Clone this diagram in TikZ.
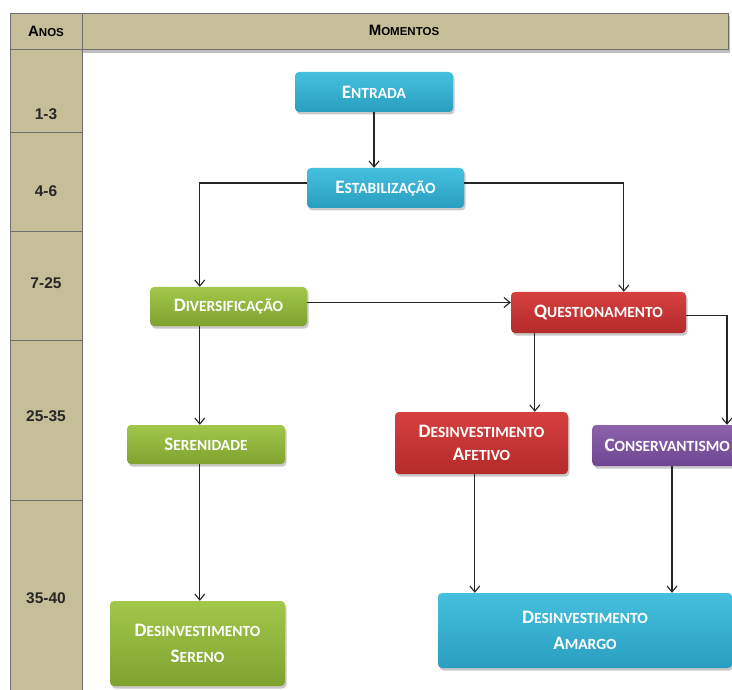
\documentclass[tikz,border=0pt]{standalone}
\usepackage{fontspec}
\setmainfont{Carlito}
\newfontfamily\arialfont{Liberation Sans}
\usetikzlibrary{arrows.meta,shadows,calc}
\definecolor{tan}{HTML}{C6BE99}
\definecolor{gridline}{HTML}{6E6E6E}
\definecolor{cyanT}{HTML}{45C0DE}
\definecolor{cyanB}{HTML}{2A9EC0}
\definecolor{greenT}{HTML}{A2C74A}
\definecolor{greenB}{HTML}{7FA22F}
\definecolor{redT}{HTML}{D6403F}
\definecolor{redB}{HTML}{B42A2A}
\definecolor{purT}{HTML}{8C62AC}
\definecolor{purB}{HTML}{6E4691}
\newcommand\fsc[2]{{\fontsize{19}{22}\selectfont #1}{\fontsize{15.5}{22}\selectfont #2}}
\newcommand\hsc[2]{{\fontsize{15}{16}\selectfont #1}{\fontsize{11.5}{16}\selectfont #2}}
\tikzset{
  box/.style={rounded corners=4pt, draw=none, text=white,
    font=\bfseries\fontsize{15.5}{23}\selectfont,
    align=center, inner sep=0pt,
    drop shadow={shadow xshift=1.5pt, shadow yshift=-2.5pt, opacity=0.35, fill=black!60}},
  cyanbox/.style={box, top color=cyanT, bottom color=cyanB},
  greenbox/.style={box, top color=greenT, bottom color=greenB},
  redbox/.style={box, top color=redT, bottom color=redB},
  purbox/.style={box, top color=purT, bottom color=purB},
  cell/.style={fill=tan, draw=gridline, line width=1pt},
  rowlabel/.style={font=\arialfont\bfseries\fontsize{15.5}{16}\selectfont, text=black!85},
  arr/.style={draw=black!85, line width=1.1pt, -{Straight Barb[length=6pt,width=10pt]}}
}
\begin{document}
\begin{tikzpicture}[x=1pt,y=-1pt]
\useasboundingbox (0,0) rectangle (732,690);
\fill[white] (0,0) rectangle (732,690);
\begin{scope}
\clip (0,0) rectangle (732,690);
% table
\fill[black!25] (12,16) rectangle (730,53);
\draw[cell] (10,14) rectangle (82,50);
\draw[cell] (82,14) rectangle (728,50);
\draw[cell] (10,50) rectangle (82,133);
\draw[cell] (10,133) rectangle (82,232);
\draw[cell] (10,232) rectangle (82,340);
\draw[cell] (10,340) rectangle (82,500);
\draw[cell] (10,500) rectangle (82,695);
\node[text=black] (hanos) at (46,31) {\arialfont\bfseries\hsc{A}{NOS}};
\node[text=black] (hmom) at (404,30) {\arialfont\bfseries\hsc{M}{OMENTOS}};
\node[rowlabel] (r1) at (46,114) {1-3};
\node[rowlabel] (r2) at (46,191) {4-6};
\node[rowlabel] (r3) at (46,283) {7-25};
\node[rowlabel] (r4) at (46,416) {25-35};
\node[rowlabel] (r5) at (46,598) {35-40};
% nodes
\node[cyanbox, minimum width=158pt, minimum height=40pt] (entrada) at (374,92) {\fsc{E}{NTRADA}};
\node[cyanbox, minimum width=157pt, minimum height=40pt] (estab) at (385.5,188) {\fsc{E}{STABILIZAÇÃO}};
\node[greenbox, minimum width=157pt, minimum height=39pt] (div) at (228.5,306.5) {\fsc{D}{IVERSIFICAÇÃO}};
\node[redbox, minimum width=175pt, minimum height=41pt] (quest) at (598.5,312.5) {\fsc{Q}{UESTIONAMENTO}};
\node[greenbox, minimum width=158pt, minimum height=39pt] (seren) at (206,444.5) {\fsc{S}{ERENIDADE}};
\node[redbox, minimum width=173pt, minimum height=62pt] (afetivo) at (481.5,443) {\fsc{D}{ESINVESTIMENTO}\\\fsc{A}{FETIVO}};
\node[purbox, minimum width=150pt, minimum height=41pt, anchor=west] (cons) at (592,445.5) {\hspace*{7pt}\fsc{C}{ONSERVANTISMO}\hspace*{7pt}};
\node[greenbox, minimum width=175pt, minimum height=85pt] (sereno) at (197.5,643.5) {\fsc{D}{ESINVESTIMENTO}\\[3pt]\fsc{S}{ERENO}};
\node[cyanbox, minimum width=294pt, minimum height=75pt] (amargo) at (585,630.5) {\fsc{D}{ESINVESTIMENTO}\\[3pt]\fsc{A}{MARGO}};
% connectors
\draw[arr] (entrada.south) -- (entrada.south |- estab.north);
\draw[arr] ([yshift=5pt]estab.west) -| ([xshift=50pt]div.north west);
\draw[arr] ([yshift=5pt]estab.east) -| ([xshift=113pt]quest.north west);
\draw[arr] ([yshift=4pt]div.east) -- ([yshift=4pt]div.east -| quest.west);
\draw[arr] ([xshift=50pt]div.south west) -- ([xshift=50pt]div.south west |- seren.north);
\draw[arr] ([xshift=24pt]quest.south west) -- ([xshift=24pt]quest.south west |- afetivo.north);
\draw[arr] ([yshift=-3pt]quest.east) -| ([xshift=135pt]cons.north west);
\draw[arr] ([xshift=73pt]seren.south west) -- ([xshift=73pt]seren.south west |- sereno.north);
\draw[arr] ([xshift=80pt]afetivo.south west) -- ([xshift=80pt]afetivo.south west |- amargo.north);
\draw[arr] ([xshift=80pt]cons.south west) -- ([xshift=80pt]cons.south west |- amargo.north);
\end{scope}
\end{tikzpicture}
\end{document}
